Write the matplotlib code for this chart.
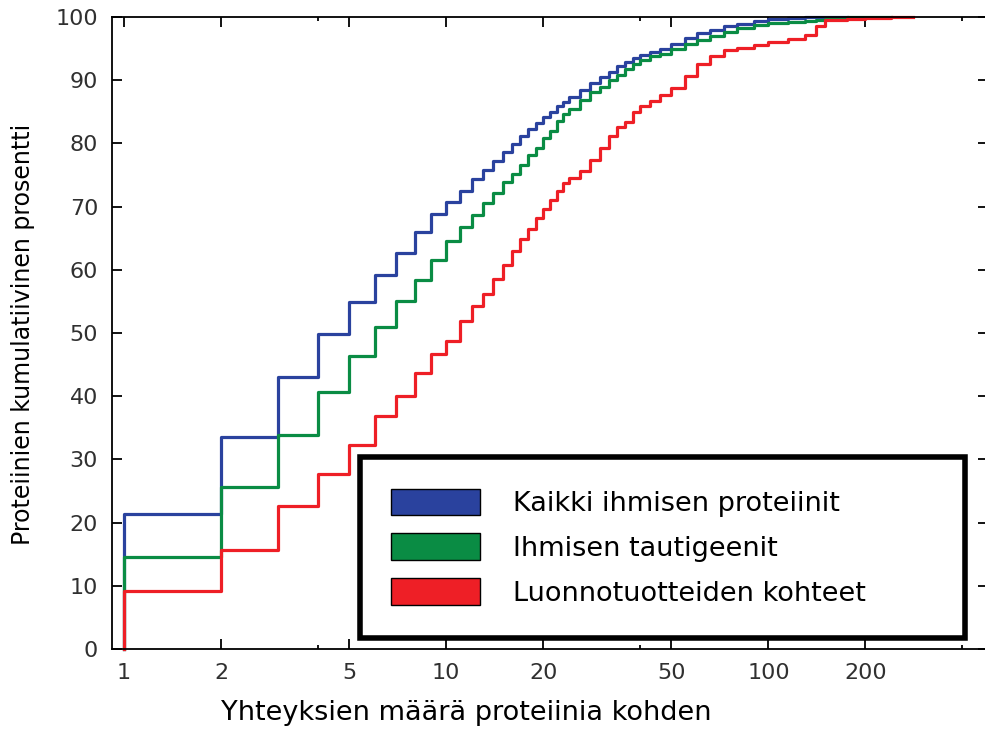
import numpy as np
import matplotlib.pyplot as plt
from matplotlib.patches import Patch
from matplotlib.ticker import FixedLocator, NullFormatter

# interactions per protein (x) and cumulative percentage for each group
degree = [1, 2, 3, 4, 5, 6, 7, 8, 9, 10, 11, 12, 13, 14, 15, 16, 17, 18, 19, 20,
          21, 22, 23, 24, 26, 28, 30, 32, 34, 36, 38, 40, 43, 46, 50, 55, 60, 66,
          73, 80, 90, 100, 115, 130, 140, 150, 175, 200, 240, 280]

nan = np.nan
all_human = [21.4, 33.6, 43.1, 49.8, 54.9, 59.1, 62.7, 66.0, 68.8, 70.8, 72.5, 74.3,
             75.8, 77.2, 78.6, 79.9, 81.1, 82.2, 83.3, 84.2, 85.0, 85.9, 86.6, 87.3,
             88.4, 89.5, 90.5, 91.3, 92.2, 92.9, 93.5, 94.0, 94.5, 95.0, 95.7, 96.6,
             97.4, 98.0, 98.5, 98.9, 99.4, 99.7, 99.9, 100, 100, 100, nan, nan, nan, nan]
disease = [14.5, 25.6, 33.9, 40.6, 46.3, 50.9, 55.1, 58.4, 61.5, 64.5, 66.8, 68.6,
           70.6, 72.2, 73.9, 75.2, 76.6, 78.2, 79.3, 80.8, 82.0, 83.5, 84.6, 85.4,
           86.9, 88.1, 89.0, 90.0, 90.9, 91.8, 92.6, 93.2, 93.8, 94.2, 94.9, 95.7,
           96.4, 97.0, 97.7, 98.2, 98.7, 99.0, 99.2, 99.4, 99.5, 99.7, 100, 100, nan, nan]
natural = [9.1, 15.6, 22.7, 27.7, 32.2, 36.9, 40.0, 43.6, 46.6, 48.8, 51.9, 54.2,
           56.2, 58.5, 60.8, 63.0, 64.8, 66.4, 68.2, 69.6, 71.0, 72.4, 73.8, 74.5,
           75.6, 77.3, 79.3, 81.2, 82.6, 83.4, 85.0, 85.9, 86.7, 87.7, 88.8, 90.7,
           92.6, 93.9, 94.7, 95.1, 95.5, 96.0, 96.5, 97.2, 98.6, 99.5, 99.7, 99.8, 100, 100]

labels = ["Kaikki ihmisen proteiinit", "Ihmisen tautigeenit", "Luonnotuotteiden kohteet"]
colors = ["#2a429e", "#0a8c44", "#ee1f26"]

fig = plt.figure(figsize=(9.85, 7.33), dpi=100)
ax = fig.add_axes([112/985, 84/733, 876/985, 632/733])

for vals, c in zip([all_human, disease, natural], colors):
    x = [1] + degree
    y = [0] + vals
    ax.plot(x, y, drawstyle="steps-post", color=c, lw=2.3, clip_on=False)

ax.set_xscale("log")
ax.set_xlim(0.918, 480)
ax.set_ylim(0, 100)
ax.xaxis.set_major_locator(FixedLocator([1, 2, 5, 10, 20, 50, 100, 200]))
ax.xaxis.set_minor_locator(FixedLocator([4, 40, 400]))
ax.xaxis.set_minor_formatter(NullFormatter())
ax.set_xticklabels(["1", "2", "5", "10", "20", "50", "100", "200"])
ax.set_yticks(range(0, 101, 10))

ax.tick_params(which="both", direction="in", top=True, right=True,
               labelsize=16, labelcolor="#303030", width=1.3)
ax.tick_params(which="major", length=7, pad=10)
ax.tick_params(which="minor", length=3)
for s in ax.spines.values():
    s.set_linewidth(1.3)

ax.set_xlabel("Yhteyksien määrä proteiinia kohden", fontsize=19.5)
ax.xaxis.set_label_coords(0.404, -0.081)
ax.set_ylabel("Proteiinien kumulatiivinen prosentti", fontsize=17)
ax.yaxis.set_label_coords(-0.088, 0.498)

handles = [Patch(facecolor=c, edgecolor="black", lw=1) for c in colors]
leg = ax.legend(handles, labels, loc="lower left",
                bbox_to_anchor=(0.283, 0.0174, 0.691, 0.285), mode="expand",
                borderaxespad=0, fontsize=19.5, handlelength=3.3, handleheight=1.15,
                handletextpad=1.2, labelspacing=0.6, borderpad=1.15,
                fancybox=False, framealpha=1, edgecolor="black")
leg.get_frame().set_linewidth(4)

fig.savefig("out.png", dpi=100)
